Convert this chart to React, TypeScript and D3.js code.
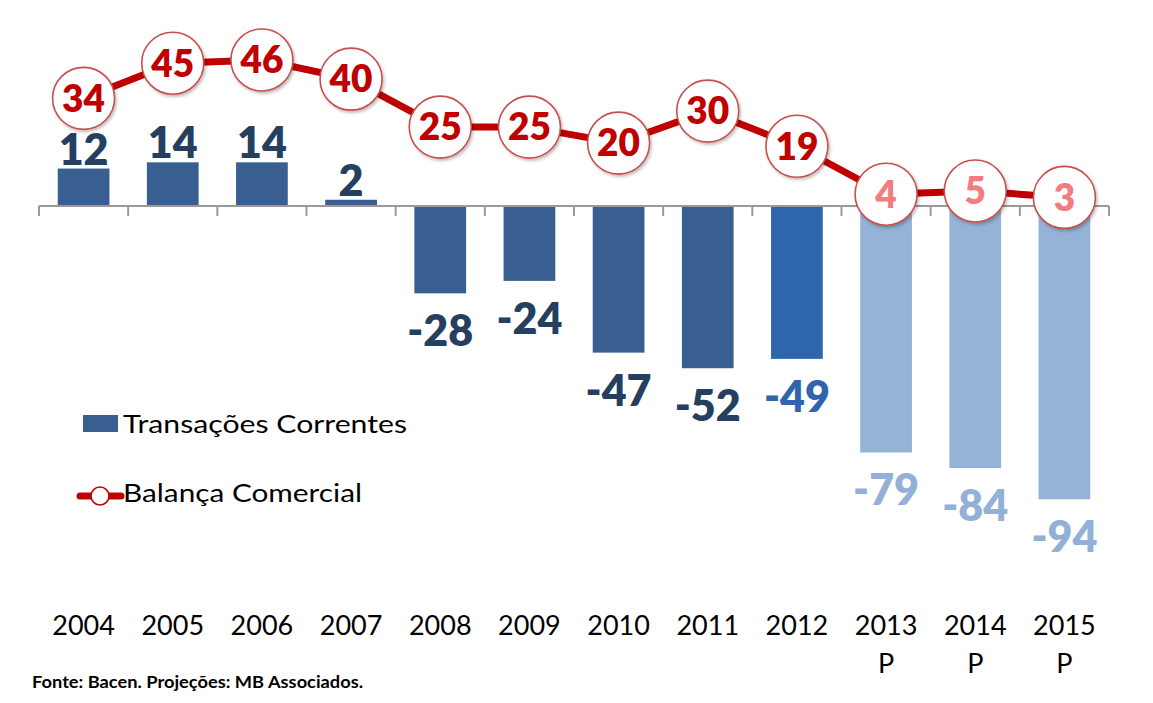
import React from 'react';
import * as d3 from 'd3';

const years = ['2004', '2005', '2006', '2007', '2008', '2009', '2010', '2011', '2012', '2013', '2014', '2015'];
const yearSub = ['', '', '', '', '', '', '', '', '', 'P', 'P', 'P'];
const transacoes = [12, 14, 14, 2, -28, -24, -47, -52, -49, -79, -84, -94];
const balanca = [34, 45, 46, 40, 25, 25, 20, 30, 19, 4, 5, 3];
const status = ['hist', 'hist', 'hist', 'hist', 'hist', 'hist', 'hist', 'hist', 'last', 'proj', 'proj', 'proj'];
const legendItems = ['Transações Correntes', 'Balança Comercial'];
const sourceNote = 'Fonte: Bacen. Projeções: MB Associados.';

const W = 1153;
const H = 703;

const barFill: Record<string, string> = { hist: '#385f90', last: '#2e65ad', proj: '#95b3d7' };
const barLabelFill: Record<string, string> = { hist: '#243f60', last: '#2e65ad', proj: '#93b0d6' };
const lineLabelFill: Record<string, string> = { hist: '#c00000', last: '#c00000', proj: '#f47c7f' };

export default function App() {
  const x = d3.scaleBand<string>().domain(years).range([39, 1109]).paddingInner(0.42).paddingOuter(0.21);
  const step = x.step();
  const yBar = d3.scaleLinear().domain([-100, 60]).range([518, 18.8]);
  const yLine = d3.scaleLinear().domain([0, 50]).range([207, 47.2]);
  const cx = (y: string) => (x(y) as number) + x.bandwidth() / 2;

  const linePath = d3.line<number>()
    .x((_, i) => cx(years[i]))
    .y((d) => yLine(d))(balanca) as string;

  const font = 'Lato, "Open Sans", sans-serif';
  const zeroY = yBar(0);
  const x0 = x.range()[0];
  const tickXs = d3.range(years.length + 1).map((i) => x0 + i * step);

  return (
    <svg width={W} height={H} style={{ position: 'absolute', left: 0, top: 0, background: '#fff' }} fontFamily={font}>
      <defs>
        <filter id="sh" x="-30%" y="-30%" width="160%" height="160%">
          <feDropShadow dx="1.5" dy="2" stdDeviation="1.5" floodColor="#000" floodOpacity="0.25" />
        </filter>
      </defs>
      <rect width={W} height={H} fill="#fff" />
      {/* bars */}
      {years.map((y, i) => {
        const v = transacoes[i];
        const top = v >= 0 ? yBar(v) : zeroY;
        const h = Math.abs(yBar(v) - zeroY);
        return <rect key={'b' + y} x={x(y)} y={top} width={x.bandwidth()} height={h} fill={barFill[status[i]]} />;
      })}
      {/* axis */}
      <line x1={x0} x2={tickXs[tickXs.length - 1]} y1={zeroY} y2={zeroY} stroke="#9a9a9a" strokeWidth={2} />
      {tickXs.map((tx, i) => (
        <line key={'t' + i} x1={tx} x2={tx} y1={zeroY} y2={zeroY + 10} stroke="#9a9a9a" strokeWidth={2} />
      ))}
      {/* bar labels */}
      {years.map((y, i) => {
        const v = transacoes[i];
        const yy = v >= 0 ? yBar(v) - 4 : yBar(v) + 53;
        return (
          <text key={'bl' + y} x={cx(y)} y={yy} textAnchor="middle" fontSize={43} fontWeight={800} fill={barLabelFill[status[i]]}>
            {v}
          </text>
        );
      })}
      {/* line */}
      <path d={linePath} fill="none" stroke="#c00000" strokeWidth={7} strokeLinejoin="round" />
      {years.map((y, i) => (
        <g key={'c' + y}>
          <circle cx={cx(y)} cy={yLine(balanca[i])} r={31} fill="#fff" stroke="#c8504f" strokeWidth={1.6} filter="url(#sh)" />
          <text x={cx(y)} y={yLine(balanca[i])} dy="0.36em" textAnchor="middle" fontSize={37} fontWeight={800} fill={lineLabelFill[status[i]]}>
            {balanca[i]}
          </text>
        </g>
      ))}
      {/* x labels */}
      {years.map((y, i) => (
        <g key={'xl' + y}>
          <text x={cx(y)} y={635} textAnchor="middle" fontSize={27} fill="#000">{y}</text>
          {yearSub[i] && (
            <text x={cx(y)} y={673} textAnchor="middle" fontSize={27} fill="#000">{yearSub[i]}</text>
          )}
        </g>
      ))}
      {/* legend */}
      <rect x={83} y={415} width={35} height={17} fill={barFill.hist} />
      <text x={123} y={433} fontSize={25} fill="#000" textLength={284} lengthAdjust="spacingAndGlyphs">{legendItems[0]}</text>
      <line x1={80} x2={121} y1={496} y2={496} stroke="#c00000" strokeWidth={7} strokeLinecap="round" />
      <circle cx={100} cy={496} r={9} fill="#fff" stroke="#c00000" strokeWidth={1.5} />
      <text x={123} y={502} fontSize={25} fill="#000" textLength={239} lengthAdjust="spacingAndGlyphs">{legendItems[1]}</text>
      {/* source */}
      <text x={32} y={688} fontSize={17} fontWeight={700} fill="#000" textLength={331} lengthAdjust="spacingAndGlyphs">{sourceNote}</text>
    </svg>
  );
}
